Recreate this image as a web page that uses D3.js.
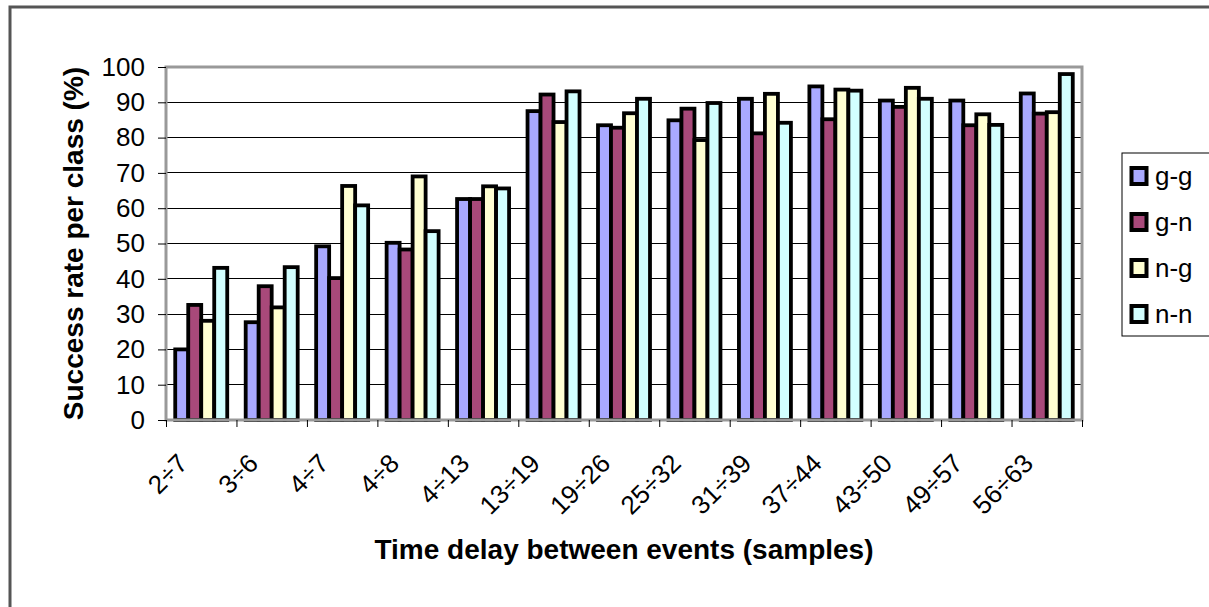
<!DOCTYPE html>
<html>
<head>
<meta charset="utf-8">
<script src="https://cdn.jsdelivr.net/npm/d3@7"></script>
<style>
  body { margin: 0; background: #fff; }
  svg text { font-family: "Liberation Sans", Arial, sans-serif; fill: #000; }
</style>
</head>
<body>
<svg id="chart" width="1209" height="607"></svg>
<script>
// categories (time delay ranges)
const categories = ["2÷7", "3÷6", "4÷7", "4÷8", "4÷13", "13÷19", "19÷26", "25÷32", "31÷39", "37÷44", "43÷50", "49÷57", "56÷63"];
const seriesNames = ["g-g", "g-n", "n-g", "n-n"];
const gg = [20, 27.7, 49.2, 50.2, 62.6, 87.5, 83.5, 84.9, 91, 94.5, 90.5, 90.5, 92.5];
const gn = [32.6, 37.9, 40.2, 48.3, 62.6, 92.2, 82.8, 88.2, 81.2, 85.2, 88.7, 83.5, 86.8];
const ng = [28.1, 31.9, 66.3, 69, 66.2, 84.4, 86.9, 79.3, 92.4, 93.6, 94.1, 86.6, 87.2];
const nn = [43.1, 43.3, 60.8, 53.5, 65.6, 93.1, 91, 89.8, 84.2, 93.3, 91, 83.6, 98];
const yTicks = [0, 10, 20, 30, 40, 50, 60, 70, 80, 90, 100];
const colors = ["#A9A9FF", "#A8497A", "#FFFFD2", "#D2FFFF"];

const series = [gg, gn, ng, nn];

const svg = d3.select("#chart");
const plot = { left: 166, right: 1082, top: 67, bottom: 420 };

// outer frame (runs off the picture on the right and bottom)
svg.append("rect")
    .attr("x", 10).attr("y", 7)
    .attr("width", 1400).attr("height", 800)
    .attr("fill", "none")
    .attr("stroke", "#555")
    .attr("stroke-width", 3);

const x0 = d3.scaleBand()
    .domain(categories)
    .range([plot.left, plot.right])
    .paddingInner(0.262)
    .paddingOuter(0.131);

const x1 = d3.scaleBand()
    .domain(seriesNames)
    .range([0, x0.bandwidth()]);

const y = d3.scaleLinear()
    .domain([0, 100])
    .range([plot.bottom, plot.top]);

// gridlines
svg.append("g")
    .selectAll("line")
    .data(yTicks.filter(d => d > 0 && d < 100))
    .join("line")
    .attr("x1", plot.left).attr("x2", plot.right)
    .attr("y1", d => y(d)).attr("y2", d => y(d))
    .attr("stroke", "#000")
    .attr("stroke-width", 1)
    .attr("shape-rendering", "crispEdges");

// bars
const groups = svg.append("g")
    .selectAll("g")
    .data(categories)
    .join("g")
    .attr("transform", d => `translate(${x0(d)},0)`);

groups.selectAll("rect")
    .data((c, i) => seriesNames.map((s, j) => ({ s, j, v: series[j][i] })))
    .join("rect")
    .attr("x", d => x1(d.s))
    .attr("y", d => y(d.v))
    .attr("width", x1.bandwidth())
    .attr("height", d => y(0) - y(d.v))
    .attr("fill", d => colors[d.j])
    .attr("stroke", "#000")
    .attr("stroke-width", 3.8);

// plot area border
svg.append("rect")
    .attr("x", plot.left).attr("y", plot.top)
    .attr("width", plot.right - plot.left)
    .attr("height", plot.bottom - plot.top)
    .attr("fill", "none")
    .attr("stroke", "#999")
    .attr("stroke-width", 3);

// y axis
const yAxis = svg.append("g")
    .attr("transform", `translate(${plot.left},0)`)
    .call(d3.axisLeft(y).tickValues(yTicks).tickSize(8).tickPadding(13));
yAxis.select(".domain").remove();
yAxis.selectAll("line").attr("stroke", "#000");
yAxis.selectAll("text")
    .style("font-family", '"Liberation Sans", Arial, sans-serif')
    .style("font-size", "26px")
    .attr("fill", "#000");

// x axis ticks at category boundaries
const xb = d3.scaleLinear().domain([0, categories.length]).range([plot.left, plot.right]);
const xAxis = svg.append("g")
    .attr("transform", `translate(0,${plot.bottom})`)
    .call(d3.axisBottom(xb).tickValues(d3.range(categories.length + 1)).tickSize(7).tickFormat(""));
xAxis.select(".domain").remove();
xAxis.selectAll("line").attr("stroke", "#000");

// rotated category labels
svg.append("g")
    .selectAll("text")
    .data(categories)
    .join("text")
    .attr("transform", d => `translate(${x0(d) + x0.bandwidth() / 2 - 12},465) rotate(-45)`)
    .attr("text-anchor", "end")
    .style("font-size", "26px")
    .text(d => d);

// axis titles
svg.append("text")
    .attr("x", (plot.left + plot.right) / 2)
    .attr("y", 559)
    .attr("text-anchor", "middle")
    .style("font-size", "28px")
    .style("font-weight", "bold")
    .text("Time delay between events (samples)");

svg.append("text")
    .attr("transform", `translate(83,${(plot.top + plot.bottom) / 2}) rotate(-90)`)
    .attr("text-anchor", "middle")
    .style("font-size", "28px")
    .style("font-weight", "bold")
    .text("Success rate per class (%)");

// legend
const legend = svg.append("g");
legend.append("rect")
    .attr("x", 1122).attr("y", 153)
    .attr("width", 120).attr("height", 183)
    .attr("fill", "#fff")
    .attr("stroke", "#000")
    .attr("stroke-width", 1);

const items = legend.selectAll("g")
    .data(seriesNames)
    .join("g")
    .attr("transform", (d, i) => `translate(1130,${176 + i * 46})`);

items.append("rect")
    .attr("x", 1.5).attr("y", -8)
    .attr("width", 15).attr("height", 16)
    .attr("fill", (d, i) => colors[i])
    .attr("stroke", "#000")
    .attr("stroke-width", 4);

items.append("text")
    .attr("x", 25)
    .attr("y", 9)
    .style("font-size", "26px")
    .text(d => d);
</script>
</body>
</html>
